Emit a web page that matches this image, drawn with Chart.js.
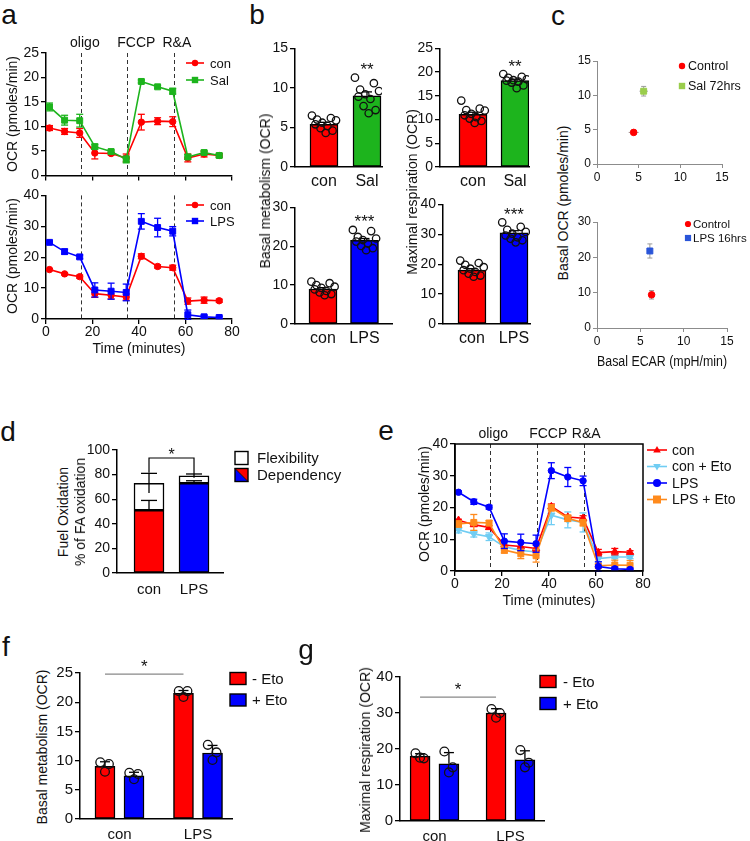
<!DOCTYPE html>
<html>
<head>
<meta charset="utf-8">
<script src="https://cdn.jsdelivr.net/npm/chart.js@4.4.1/dist/chart.umd.min.js"></script>
<style>
  body { margin: 0; width: 750px; height: 841px; position: relative; overflow: hidden; background: #fff;
         font-family: "Liberation Sans", Arial, sans-serif; }
  canvas { position: absolute; }
  .t { position: absolute; white-space: nowrap; line-height: 1; color: #111; transform: translate(-50%, -50%); }
  .r { transform: translate(-50%, -50%) rotate(-90deg); }
</style>
</head>
<body>
<script>
// ---- data ----
const times = [1.5, 8, 14.5, 21, 28, 34.5, 41, 48, 54.5, 61, 68, 74.5];
const injections = [15, 35, 55];
const injectionNames = ['oligo', 'FCCP', 'R&A'];

// a (top): con vs Sal
const conSal = [9.7, 9.0, 8.7, 4.6, 4.5, 3.6, 10.9, 11.1, 11.0, 3.6, 4.4, 4.1];
const conSalErr = [0.5, 0.6, 0.9, 1.2, 0.3, 0.8, 1.6, 0.7, 1.0, 0.8, 0.6, 0.4];
const sal = [14.0, 11.3, 11.2, 5.9, 4.9, 3.3, 19.2, 18.1, 17.2, 3.8, 4.7, 4.1];
const salErr = [0.8, 1.0, 1.3, 0.5, 0.3, 0.7, 0.3, 0.3, 0.6, 0.5, 0.3, 0.3];

// a (bottom) and e: con vs LPS, with and without Eto
const conLps = [16.0, 14.6, 13.7, 8.2, 7.7, 7.1, 20.3, 17.0, 16.6, 5.8, 6.1, 5.9];
const conLpsErr = [0.3, 0.3, 0.5, 1.2, 1.2, 1.0, 0.8, 0.5, 0.8, 1.0, 1.0, 0.5];
const lps = [24.8, 21.8, 20.1, 9.4, 9.0, 8.6, 31.6, 29.6, 28.4, 1.4, 0.7, 0.5];
const lpsErr = [0.4, 0.8, 0.6, 2.3, 2.6, 2.7, 2.5, 3.0, 1.5, 1.5, 0.5, 0.4];
const conEto = [13.0, 11.7, 10.8, 7.6, 6.5, 6.0, 17.6, 16.1, 15.3, 3.9, 4.4, 4.4];
const conEtoErr = [1.0, 1.0, 1.2, 1.0, 1.0, 1.0, 3.0, 2.5, 3.0, 1.0, 0.5, 0.5];
const lpsEto = [14.8, 15.3, 15.1, 6.6, 5.4, 4.8, 19.9, 16.6, 15.2, 1.6, 1.9, 1.8];
const lpsEtoErr = [1.0, 2.5, 0.8, 1.0, 1.5, 2.0, 1.0, 1.0, 1.0, 0.5, 1.5, 1.5];

// b
const salCats = ['con', 'Sal'];
const lpsCats = ['con', 'LPS'];
const basalSalMean = [5.4, 9.0];
const basalSalSem = [0.25, 0.5];
const basalSalDots = [[6.5, 6.2, 6.0, 5.9, 5.6, 5.4, 5.2, 4.9, 4.6, 4.3],
                      [11.3, 10.6, 9.8, 9.6, 9.2, 8.9, 8.6, 7.7, 7.2, 6.8]];
const maxSalMean = [11.1, 18.2];
const maxSalSem = [0.45, 0.3];
const maxSalDots = [[14.0, 12.3, 12.0, 11.9, 11.2, 10.9, 10.5, 10.2, 9.7, 9.3],
                    [19.6, 19.0, 18.8, 18.5, 18.3, 18.2, 18.0, 17.8, 17.2, 16.6]];
const basalLpsMean = [9.0, 21.5];
const basalLpsSem = [0.35, 0.5];
const basalLpsDots = [[10.9, 10.5, 10.0, 9.6, 9.3, 8.9, 8.5, 8.1, 7.7, 7.4],
                      [24.2, 23.9, 22.4, 22.0, 21.6, 21.2, 20.7, 20.1, 19.5, 19.0]];
const maxLpsMean = [18.0, 30.5];
const maxLpsSem = [0.5, 0.7];
const maxLpsDots = [[21.2, 20.4, 19.8, 19.0, 18.5, 18.0, 17.4, 16.8, 16.2, 15.8],
                    [34.0, 32.5, 31.5, 30.8, 30.2, 29.6, 29.0, 28.5, 28.0, 27.3]];

// c
const cTopNames = ['Control', 'Sal 72hrs'];
const cTopEcar = [4.4, 5.6];
const cTopOcr = [4.6, 10.6];
const cTopEcarErr = [0.6, 0.5];
const cTopOcrErr = [0.3, 0.7];
const cBotNames = ['Control', 'LPS 16hrs'];
const cBotEcar = [6.3, 6.1];
const cBotOcr = [9.4, 21.8];
const cBotEcarErr = [0.15, 0.2];
const cBotOcrErr = [1.2, 2.0];

// d
const dCats = ['con', 'LPS'];
const dependency = [51, 73];
const dependencyErr = [8, 2];
const flexibility = [22, 6];
const totalErr = [8, 1.5];

// f
const etoCats = ['con', 'LPS'];
const basalNoEto = [9.0, 21.5];
const basalNoEtoSd = [0.8, 0.5];
const basalEto = [7.4, 11.3];
const basalEtoSd = [0.6, 1.3];
const basalNoEtoDots = [[9.7, 9.4, 8.1], [21.9, 21.9, 20.9]];
const basalEtoDots = [[7.9, 7.7, 6.8], [12.7, 11.4, 10.1]];
// g
const maxNoEto = [18.0, 30.0];
const maxNoEtoSd = [0.7, 1.2];
const maxEto = [15.9, 17.0];
const maxEtoSd = [3.1, 2.5];
const maxNoEtoDots = [[18.8, 17.4, 17.6], [31.1, 30.0, 28.7]];
const maxEtoDots = [[19.3, 14.9, 13.5], [19.7, 16.2, 14.9]];

// ---- styles ----
const FONT = '"Liberation Sans", Arial, sans-serif';
const RED = '#ff0000', GREEN = '#1db41d', BLUE = '#0000ff';
const LIGHTBLUE = '#70cdf3', ORANGE = '#ff8a1c', LIME = '#9acd4c', CBLUE = '#2a55d8';

// ---- helpers ----
function txt(s, x, y, size, rot) {
  const d = document.createElement('div');
  d.className = rot ? 't r' : 't';
  d.style.left = x + 'px'; d.style.top = y + 'px'; d.style.fontSize = size + 'px';
  d.textContent = s;
  document.body.appendChild(d);
}

function place(id, box, pad, config) {
  const [x0, y0, x1, y1] = box, [pl, pt, pr, pb] = pad;
  const cv = document.createElement('canvas');
  const w = x1 - x0 + pl + pr, h = y1 - y0 + pt + pb;
  cv.id = id; cv.width = w; cv.height = h;
  cv.style.left = (x0 - pl) + 'px'; cv.style.top = (y0 - pt) + 'px';
  cv.style.width = w + 'px'; cv.style.height = h + 'px';
  document.body.appendChild(cv);
  const o = config.options;
  o.responsive = false;
  o.animation = false;
  o.layout = { padding: { left: 0, top: pt, right: pr, bottom: 0 } };
  o.scales.x.afterFit = s => { s.height = pb; };
  o.scales.y.afterFit = s => { s.width = pl; };
  o.plugins = { legend: { display: false }, tooltip: { enabled: false } };
  const off = [x0 - pl, y0 - pt];
  config.plugins = (config.plugins || []).map(p => typeof p === 'function' ? p(off) : p);
  return new Chart(cv, config);
}

function valAxis(min, max, step, size, color) {
  color = color || '#000';
  return { min, max,
    ticks: { stepSize: step, font: { size, family: FONT }, color: '#111', padding: 2 },
    grid: { drawOnChartArea: false, tickLength: color === '#000' ? 5 : 4, color, lineWidth: color === '#000' ? 1.3 : 1 },
    border: { color, width: color === '#000' ? 1.5 : 1 } };
}

function timeAxis(labels, title) {
  return { type: 'linear', min: 0, max: 80,
    ticks: { stepSize: 20, display: labels, font: { size: 14, family: FONT }, color: '#111', padding: 0 },
    grid: { drawOnChartArea: false, tickLength: 5, color: '#000', lineWidth: 1.3 },
    border: { color: '#000', width: 1.5 },
    title: { display: !!title, text: title || '', font: { size: 14, family: FONT }, color: '#111', padding: { top: 2, bottom: 4 } } };
}

function catAxis(cats, min, max, size, pad) {
  return { type: 'linear', min, max, offset: false,
    afterBuildTicks: s => { s.ticks = cats.map((c, i) => ({ value: i })); },
    ticks: { callback: v => cats[v], autoSkip: false, maxRotation: 0, font: { size, family: FONT }, color: '#111', padding: pad },
    grid: { drawOnChartArea: false, drawTicks: false },
    border: { color: '#000', width: 1.5 } };
}

function lineSet(label, vals, errs, color, style, rot, order) {
  return { label, data: vals.map((v, i) => ({ x: times[i], y: v })), errs, errColor: color, cap: 3.5,
    borderColor: color, backgroundColor: color, borderWidth: 1.6, pointStyle: style, pointRotation: rot || 0,
    pointRadius: style === 'circle' ? 3.2 : 4.2, pointBorderWidth: 1, tension: 0, order: order || 0 };
}

const jit10 = j => ((j * 3) % 5 - 2) * 0.12 + (j % 2 ? 0.04 : -0.04);
const jit3 = [-0.06, 0.05, 0];

// dots get order 0 so they are drawn over the bars
function dotSet(groups, shift, jitter, r) {
  const pts = [];
  groups.forEach((vals, i) => vals.forEach((v, j) => pts.push({ x: i + shift + jitter(j), y: v })));
  return { type: 'scatter', data: pts, pointRadius: r, pointBorderWidth: 1.3, borderColor: '#111',
    backgroundColor: 'rgba(0,0,0,0)', pointStyle: 'circle', showLine: false, order: 0 };
}

function shape(ctx, kind, x, y, r, color, rot) {
  ctx.save();
  ctx.fillStyle = color;
  ctx.beginPath();
  if (kind === 'circle') ctx.arc(x, y, r, 0, Math.PI * 2);
  else if (kind === 'rect') ctx.rect(x - r, y - r, 2 * r, 2 * r);
  else {
    const s = rot ? -1 : 1;
    ctx.moveTo(x, y - s * r); ctx.lineTo(x + r * 0.95, y + s * r * 0.6); ctx.lineTo(x - r * 0.95, y + s * r * 0.6);
    ctx.closePath();
  }
  ctx.fill();
  ctx.restore();
}

// ---- plugins ----
function drawErr(chart, args) {
  const ds = chart.data.datasets[args.index];
  const ctx = chart.ctx, ys = chart.scales.y, xs = chart.scales.x;
  ctx.save();
  ctx.strokeStyle = ds.errColor || '#000';
  ctx.lineWidth = ds.errWidth || 1.3;
  const cap = ds.cap || 4;
  const seg = (a, b, c, d) => { ctx.beginPath(); ctx.moveTo(a, b); ctx.lineTo(c, d); ctx.stroke(); };
  args.meta.data.forEach((el, i) => {
    const v = ys.getValueForPixel(el.y);
    if (ds.errs) {
      const e = ds.errs[i];
      const hi = ys.getPixelForValue(v + e);
      const lo = ds.errUp ? el.y : ys.getPixelForValue(v - e);
      seg(el.x, lo, el.x, hi);
      seg(el.x - cap, hi, el.x + cap, hi);
      if (!ds.errUp && !ds.openLow) seg(el.x - cap, lo, el.x + cap, lo);
    }
    if (ds.errsX) {
      const u = xs.getValueForPixel(el.x), e = ds.errsX[i];
      const l = xs.getPixelForValue(u - e), r = xs.getPixelForValue(u + e);
      seg(l, el.y, r, el.y);
    }
  });
  ctx.restore();
}
const errorBars = {
  id: 'errorBars',
  beforeDatasetDraw(chart, args) {
    const ds = chart.data.datasets[args.index];
    if ((ds.errs || ds.errsX) && ds.errBehind) drawErr(chart, args);
  },
  afterDatasetDraw(chart, args) {
    const ds = chart.data.datasets[args.index];
    if ((ds.errs || ds.errsX) && !ds.errBehind) drawErr(chart, args);
  }
};

const dashed = vals => ({ id: 'dashed', beforeDatasetsDraw(c) {
  const { ctx, chartArea: a, scales: { x } } = c;
  ctx.save(); ctx.strokeStyle = '#333'; ctx.lineWidth = 1; ctx.setLineDash([4, 3]);
  vals.forEach(v => {
    const px = Math.round(x.getPixelForValue(v)) + 0.5;
    ctx.beginPath(); ctx.moveTo(px, a.top); ctx.lineTo(px, a.bottom); ctx.stroke();
  });
  ctx.restore();
}});

const injectionLabels = (shifts, size) => ({ id: 'injLabels', afterDraw(c) {
  const { ctx, chartArea: a, scales: { x } } = c;
  ctx.save(); ctx.fillStyle = '#111'; ctx.font = size + 'px ' + FONT;
  ctx.textAlign = 'center'; ctx.textBaseline = 'middle';
  injections.forEach((v, i) => ctx.fillText(injectionNames[i], x.getPixelForValue(v) + shifts[i], a.top - 10));
  ctx.restore();
}});

const frame = { id: 'frame', afterDraw(c) {
  const { ctx, chartArea: a } = c;
  ctx.save(); ctx.strokeStyle = '#000'; ctx.lineWidth = 1.5;
  ctx.strokeRect(a.left, a.top, a.right - a.left, a.bottom - a.top);
  ctx.restore();
}};

const sig = marks => ({ id: 'sig', afterDatasetsDraw(c) {
  const { ctx, scales: { x, y } } = c;
  marks.forEach(m => {
    ctx.save();
    ctx.strokeStyle = m.color || '#000'; ctx.lineWidth = m.lw || 1.2;
    const yy = y.getPixelForValue(m.y);
    let tx;
    if (m.x2 !== undefined) {
      const a = x.getPixelForValue(m.x1), b = x.getPixelForValue(m.x2);
      ctx.beginPath();
      if (m.legs) {
        ctx.moveTo(a, y.getPixelForValue(m.legs[0])); ctx.lineTo(a, yy);
        ctx.lineTo(b, yy); ctx.lineTo(b, y.getPixelForValue(m.legs[1]));
      } else { ctx.moveTo(a, yy); ctx.lineTo(b, yy); }
      ctx.stroke();
      tx = (a + b) / 2;
    } else tx = x.getPixelForValue(m.x);
    ctx.fillStyle = '#111'; ctx.font = m.size + 'px ' + FONT;
    ctx.textAlign = 'center'; ctx.textBaseline = 'alphabetic';
    ctx.fillText(m.text, tx, yy - m.gap + 0.56 * m.size);
    ctx.restore();
  });
}});

// legend drawn at page coordinates
const keys = spec => off => ({ id: 'keys', afterDraw(c) {
  const ctx = c.ctx;
  ctx.save();
  ctx.font = spec.size + 'px ' + FONT; ctx.textBaseline = 'middle';
  spec.items.forEach((it, i) => {
    const y = spec.y + i * spec.dy - off[1];
    const a = spec.x0 - off[0], b = spec.x1 - off[0];
    if (it.kind === 'box' || it.kind === 'split') {
      const hh = spec.h / 2;
      if (it.kind === 'box') { ctx.fillStyle = it.color; ctx.fillRect(a, y - hh, b - a, spec.h); }
      else {
        ctx.fillStyle = BLUE; ctx.beginPath(); ctx.moveTo(a, y - hh); ctx.lineTo(a, y + hh); ctx.lineTo(b, y + hh); ctx.closePath(); ctx.fill();
        ctx.fillStyle = RED; ctx.beginPath(); ctx.moveTo(a, y - hh); ctx.lineTo(b, y - hh); ctx.lineTo(b, y + hh); ctx.closePath(); ctx.fill();
        ctx.strokeStyle = '#000'; ctx.lineWidth = 1; ctx.beginPath(); ctx.moveTo(a, y - hh); ctx.lineTo(b, y + hh); ctx.stroke();
      }
      ctx.strokeStyle = '#000'; ctx.lineWidth = 1.4; ctx.strokeRect(a, y - hh, b - a, spec.h);
    } else {
      if (it.line) {
        ctx.strokeStyle = it.color; ctx.lineWidth = 1.6;
        ctx.beginPath(); ctx.moveTo(a, y); ctx.lineTo(b, y); ctx.stroke();
      }
      shape(ctx, it.kind, (a + b) / 2, y, spec.r, it.color, it.rot);
    }
    ctx.fillStyle = '#111';
    ctx.fillText(it.label, spec.tx - off[0], y + 1);
  });
  ctx.restore();
}});

// ---- panel a ----
place('aTop', [46, 53, 232, 178], [34, 22, 12, 8], {
  type: 'line',
  data: { datasets: [
    lineSet('con', conSal, conSalErr, RED, 'circle', 0, 1),
    lineSet('Sal', sal, salErr, GREEN, 'rect', 0, 0)
  ]},
  options: { scales: { x: timeAxis(false), y: valAxis(0, 25, 5, 14) } },
  plugins: [errorBars, dashed(injections), injectionLabels([4, 9, 3], 14),
    keys({ x0: 186, x1: 204, tx: 210, y: 63, dy: 17, size: 13, r: 3.2, items: [
      { label: 'con', color: RED, kind: 'circle', line: true },
      { label: 'Sal', color: GREEN, kind: 'rect', line: true }] })]
});

place('aBot', [46, 195, 232, 319], [34, 10, 12, 43], {
  type: 'line',
  data: { datasets: [
    lineSet('con', conLps, conLpsErr, RED, 'circle', 0, 1),
    lineSet('LPS', lps, lpsErr, BLUE, 'rect', 0, 0)
  ]},
  options: { scales: { x: timeAxis(true, 'Time (minutes)'), y: valAxis(0, 40, 10, 14) } },
  plugins: [errorBars, dashed(injections),
    keys({ x0: 186, x1: 204, tx: 210, y: 205, dy: 16, size: 13, r: 3.2, items: [
      { label: 'con', color: RED, kind: 'circle', line: true },
      { label: 'LPS', color: BLUE, kind: 'rect', line: true }] })]
});

// ---- panel b ----
function bPanel(id, box, cats, means, sems, dots, colors, yMax, yStep, xMin, xMax, stars) {
  place(id, box, [26, 10, 6, 28], {
    type: 'bar',
    data: { datasets: [
      { data: means.map((v, i) => ({ x: i, y: v })), backgroundColor: colors, borderColor: '#000',
        borderWidth: 1.5, borderSkipped: false, barThickness: 28, grouped: false, errs: sems, errUp: true, cap: 5, order: 1 },
      dotSet(dots, 0, jit10, 3.7)
    ]},
    options: { scales: { x: catAxis(cats, xMin, xMax, 16, 5), y: valAxis(0, yMax, yStep, 14) } },
    plugins: [errorBars, sig([{ x: 1, y: Math.max(...dots[1]), gap: 12, text: stars, size: 17 }])]
  });
}
bPanel('bTL', [295, 48, 382, 167], salCats, basalSalMean, basalSalSem, basalSalDots, [RED, GREEN], 15, 5, -0.674, 1.349, '**');
bPanel('bTR', [440, 48, 529, 167], salCats, maxSalMean, maxSalSem, maxSalDots, [RED, GREEN], 25, 5, -0.786, 1.333, '**');
bPanel('bBL', [295, 207, 392, 324], lpsCats, basalLpsMean, basalLpsSem, basalLpsDots, [RED, BLUE], 30, 10, -0.675, 1.663, '***');
bPanel('bBR', [443, 204, 530, 324], lpsCats, maxLpsMean, maxLpsSem, maxLpsDots, [RED, BLUE], 40, 10, -0.69, 1.381, '***');

// ---- panel c ----
function cPanel(id, box, pad, names, ecar, ocr, ecarErr, ocrErr, colors, styles, yMax, yStep, title, leg) {
  place(id, box, pad, {
    type: 'scatter',
    data: { datasets: names.map((n, i) => ({
      label: n, data: [{ x: ecar[i], y: ocr[i] }], pointStyle: styles[i], pointRadius: styles[i] === 'rect' ? 4.2 : 3.3,
      backgroundColor: colors[i], borderColor: colors[i], errs: [ocrErr[i]], errsX: [ecarErr[i]],
      errColor: '#9a9a9a', errWidth: 1, cap: 2.5, errBehind: true })) },
    options: { scales: {
      x: Object.assign(valAxis(0, 15, 5, 12, '#8c8c8c'), { type: 'linear',
        title: { display: !!title, text: title || '', font: { size: 14, family: FONT }, color: '#111', padding: { top: 2, bottom: 4 } } }),
      y: valAxis(0, yMax, yStep, 12, '#8c8c8c') } },
    plugins: [errorBars, keys(leg)]
  });
}
cPanel('cTop', [597, 61, 722, 164], [22, 10, 28, 24], cTopNames, cTopEcar, cTopOcr, cTopEcarErr, cTopOcrErr,
  [RED, LIME], ['circle', 'rect'], 15, 5, null,
  { x0: 679, x1: 685, tx: 688, y: 66, dy: 20, size: 12.5, r: 3.2, items: [
    { label: cTopNames[0], color: RED, kind: 'circle' }, { label: cTopNames[1], color: LIME, kind: 'rect' }] });
cPanel('cBot', [597, 222, 727, 328], [22, 10, 23, 47], cBotNames, cBotEcar, cBotOcr, cBotEcarErr, cBotOcrErr,
  [RED, CBLUE], ['circle', 'rect'], 30, 10, 'Basal ECAR (mpH/min)',
  { x0: 685, x1: 691, tx: 693, y: 224, dy: 14, size: 11.5, r: 3.1, items: [
    { label: cBotNames[0], color: RED, kind: 'circle' }, { label: cBotNames[1], color: CBLUE, kind: 'rect' }] });

// ---- panel d ----
place('d', [117, 450, 223, 573], [32, 12, 127, 26], {
  type: 'bar',
  data: { datasets: [
    { label: 'Dependency', data: dependency.map((v, i) => ({ x: i, y: v })), backgroundColor: [RED, BLUE],
      borderColor: '#000', borderWidth: 1.5, borderSkipped: false, barThickness: 30, errs: dependencyErr, errUp: true, cap: 8 },
    { label: 'Flexibility', data: flexibility.map((v, i) => ({ x: i, y: v })), backgroundColor: '#fff',
      borderColor: '#000', borderWidth: 1.5, borderSkipped: false, barThickness: 30, errs: totalErr, openLow: true, cap: 8 }
  ]},
  options: { scales: {
    x: Object.assign(catAxis(dCats, -0.711, 1.644, 15, 8), { stacked: true }),
    y: Object.assign(valAxis(0, 100, 20, 14), { stacked: true }) } },
  plugins: [errorBars, sig([{ x1: 0, x2: 1, y: 93.5, legs: [81.5, 80.5], gap: 7, text: '*', size: 16 }]),
    keys({ x0: 235, x1: 248, tx: 257, y: 458, dy: 17, h: 13, size: 15, items: [
      { label: 'Flexibility', color: '#fff', kind: 'box' }, { label: 'Dependency', kind: 'split' }] })]
});

// ---- panel e ----
place('e', [455, 444, 643, 571], [32, 22, 106, 43], {
  type: 'line',
  data: { datasets: [
    lineSet('con', conLps, conLpsErr, RED, 'triangle', 0, 2),
    lineSet('con + Eto', conEto, conEtoErr, LIGHTBLUE, 'triangle', 180, 3),
    lineSet('LPS', lps, lpsErr, BLUE, 'circle', 0, 0),
    lineSet('LPS + Eto', lpsEto, lpsEtoErr, ORANGE, 'rect', 0, 1)
  ]},
  options: { scales: { x: timeAxis(true, 'Time (minutes)'), y: valAxis(0, 40, 10, 14) } },
  plugins: [errorBars, dashed(injections), injectionLabels([3, 11, 2], 14), frame,
    keys({ x0: 647, x1: 667, tx: 672, y: 450, dy: 16.5, size: 14, r: 4, items: [
      { label: 'con', color: RED, kind: 'triangle', line: true },
      { label: 'con + Eto', color: LIGHTBLUE, kind: 'triangle', rot: 180, line: true },
      { label: 'LPS', color: BLUE, kind: 'circle', line: true },
      { label: 'LPS + Eto', color: ORANGE, kind: 'rect', line: true }] })]
});

// ---- panels f and g ----
function etoPanel(id, box, means0, sd0, dots0, means1, sd1, dots1, yMax, yStep, xMin, xMax, shift, sigY, leg) {
  const bar = (vals, sd, s, color) => ({ data: vals.map((v, i) => ({ x: i + s, y: v })), backgroundColor: color,
    borderColor: '#000', borderWidth: 1.5, borderSkipped: false, barThickness: 20, grouped: false,
    errs: sd, errUp: true, cap: 5, order: 1 });
  place(id, box, [28, 18, 75, box[1] === 673 ? 22 : 20], {
    type: 'bar',
    data: { datasets: [
      bar(means0, sd0, -shift, RED), bar(means1, sd1, shift, BLUE),
      dotSet(dots0, -shift, j => jit3[j], 4.4), dotSet(dots1, shift, j => jit3[j], 4.4)
    ]},
    options: { scales: { x: catAxis(etoCats, xMin, xMax, 15, 7), y: valAxis(0, yMax, yStep, 15) } },
    plugins: [errorBars, sig([{ x1: -shift, x2: 1 - shift, y: sigY, gap: 12, text: '*', size: 17, color: '#888' }]),
      keys(leg)]
  });
}
etoPanel('f', [80, 673, 232, 819], basalNoEto, basalNoEtoSd, basalNoEtoDots, basalEto, basalEtoSd, basalEtoDots,
  25, 5, -0.503, 1.433, 0.185, 24.8,
  { x0: 230, x1: 246, tx: 252, y: 678.5, dy: 21.5, h: 12, size: 15, items: [
    { label: '- Eto', color: RED, kind: 'box' }, { label: '+ Eto', color: BLUE, kind: 'box' }] });
etoPanel('g', [400, 677, 544, 821], maxNoEto, maxNoEtoSd, maxNoEtoDots, maxEto, maxEtoSd, maxEtoDots,
  40, 10, -0.454, 1.441, 0.19, 34.4,
  { x0: 540, x1: 556, tx: 563, y: 681.5, dy: 22, h: 12, size: 15, items: [
    { label: '- Eto', color: RED, kind: 'box' }, { label: '+ Eto', color: BLUE, kind: 'box' }] });

// ---- free text ----
txt('a', 9, 15, 28); txt('b', 257, 15, 28); txt('c', 558, 16, 28); txt('d', 8, 432, 28);
txt('e', 386, 431, 28); txt('f', 6, 647, 28); txt('g', 306, 650, 28);
txt('OCR (pmoles/min)', 12, 114, 14, true);
txt('OCR (pmoles/min)', 12, 256, 14, true);
txt('Basal metabolism (OCR)', 265, 191, 14, true);
txt('Maximal respiration (OCR)', 412, 192, 14, true);
txt('Basal OCR (pmoles/min)', 563, 203, 14, true);
txt('Fuel Oxidation', 63, 512, 14, true);
txt('% of FA oxidation', 80, 512, 14, true);
txt('OCR (pmoles/min)', 424, 504, 14, true);
txt('Basal metabolism (OCR)', 42, 747, 14, true);
txt('Maximal respiration (OCR)', 365, 750, 14, true);
</script>
</body>
</html>
